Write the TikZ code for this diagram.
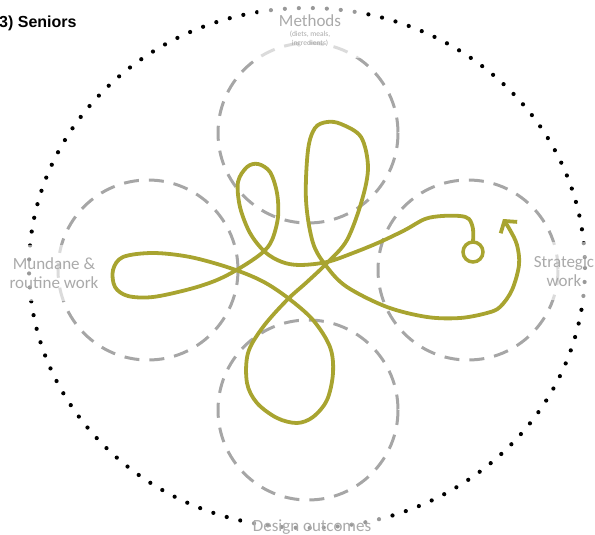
\documentclass[tikz,border=0pt]{standalone}
\usepackage{fontspec}
\setmainfont{Carlito}
\newfontfamily\titlefont{Liberation Sans}
\usetikzlibrary{arrows.meta}
\definecolor{olivepath}{RGB}{168,164,48}
\definecolor{ringgray}{RGB}{166,166,166}
\definecolor{labelgray}{RGB}{170,170,170}

\begin{document}
\begin{tikzpicture}[x=1pt, y=-1pt,
        ring/.style={ringgray, line width=3pt, dash pattern=on 15pt off 10pt},
        labelbox/.style={fill=white, fill opacity=0.6, text opacity=1, text=labelgray,
            inner sep=0pt, font=\fontsize{17}{18.5}\selectfont}]
                \useasboundingbox (0,0) rectangle (595,535);
                % Outer boundary
                \draw [black, line width=4.2pt, line cap=round, dash pattern=on 0pt off 14pt] (307,268) ellipse (278 and 260);
                % Four areas
                \draw [ring] (308,133) circle (90);
                \draw [ring] (148,270) circle (90);
                \draw [ring] (468,270) circle (90);
                \draw [ring] (308,410) circle (90);
                % Path
                \draw [olivepath, line width=3.5pt] (473,252) circle (10);
                \draw [olivepath, line width=3.8pt, line cap=round, line join=round,
                    -{Straight Barb[length=8pt, width=20pt]}]
                    plot [smooth, tension=0.55] coordinates {
                    (473,242) (473,229) (469,219) (460,216) (442,216) (425,219)
                    (405,230) (380,242) (353,253) (327,262) (300,265) (282,262)
                    (265,252) (250,233) (240,207) (238,182) (247,167) (258,164)
                    (270,172) (277,193) (278,217) (272,240) (262,253) (240,268)
                    (217,280) (190,289) (153,297) (128,296) (115,287) (113,270)
                    (123,257) (153,253) (190,257) (230,268) (262,281) (288,298)
                    (313,320) (330,347) (333,373) (327,400) (313,417) (297,423)
                    (277,418) (257,403) (247,383) (248,353) (263,327) (287,300)
                    (307,282) (327,263) (347,240) (362,200) (368,167) (361,137)
                    (341,124) (327,122) (315,128) (308,150) (306,200) (313,243)
                    (327,267) (347,287) (387,307) (427,317) (460,318) (487,313)
                    (500,307) (512,290) (519,265) (517,245) (510,230) (503,219)};
                % Labels
                \node [anchor=base west, inner sep=0pt, font=\titlefont\fontsize{16}{18}\selectfont\bfseries] (title) at (-1,28) {3) Seniors};
                \node [labelbox, anchor=base, text height=26pt, text depth=31pt, minimum width=104pt] (methods) at (310,27) {Methods};
                \node [text=labelgray, font=\fontsize{7.5}{9}\selectfont, align=center, anchor=north, inner sep=0pt] (methodsnote) at (310,31) {(diets, meals,\\ingredients)};
                \node [labelbox, align=center, minimum width=96pt, minimum height=56pt] (mundane) at (54,273) {Mundane \&\\routine work};
                \node [labelbox, align=center, minimum width=66pt, minimum height=58pt] (strategic) at (564,271) {Strategic\\work};
                \node [labelbox, anchor=base, text height=20pt, text depth=10pt, minimum width=140pt] (design) at (312,531) {Design outcomes};
            \end{tikzpicture}
\end{document}
